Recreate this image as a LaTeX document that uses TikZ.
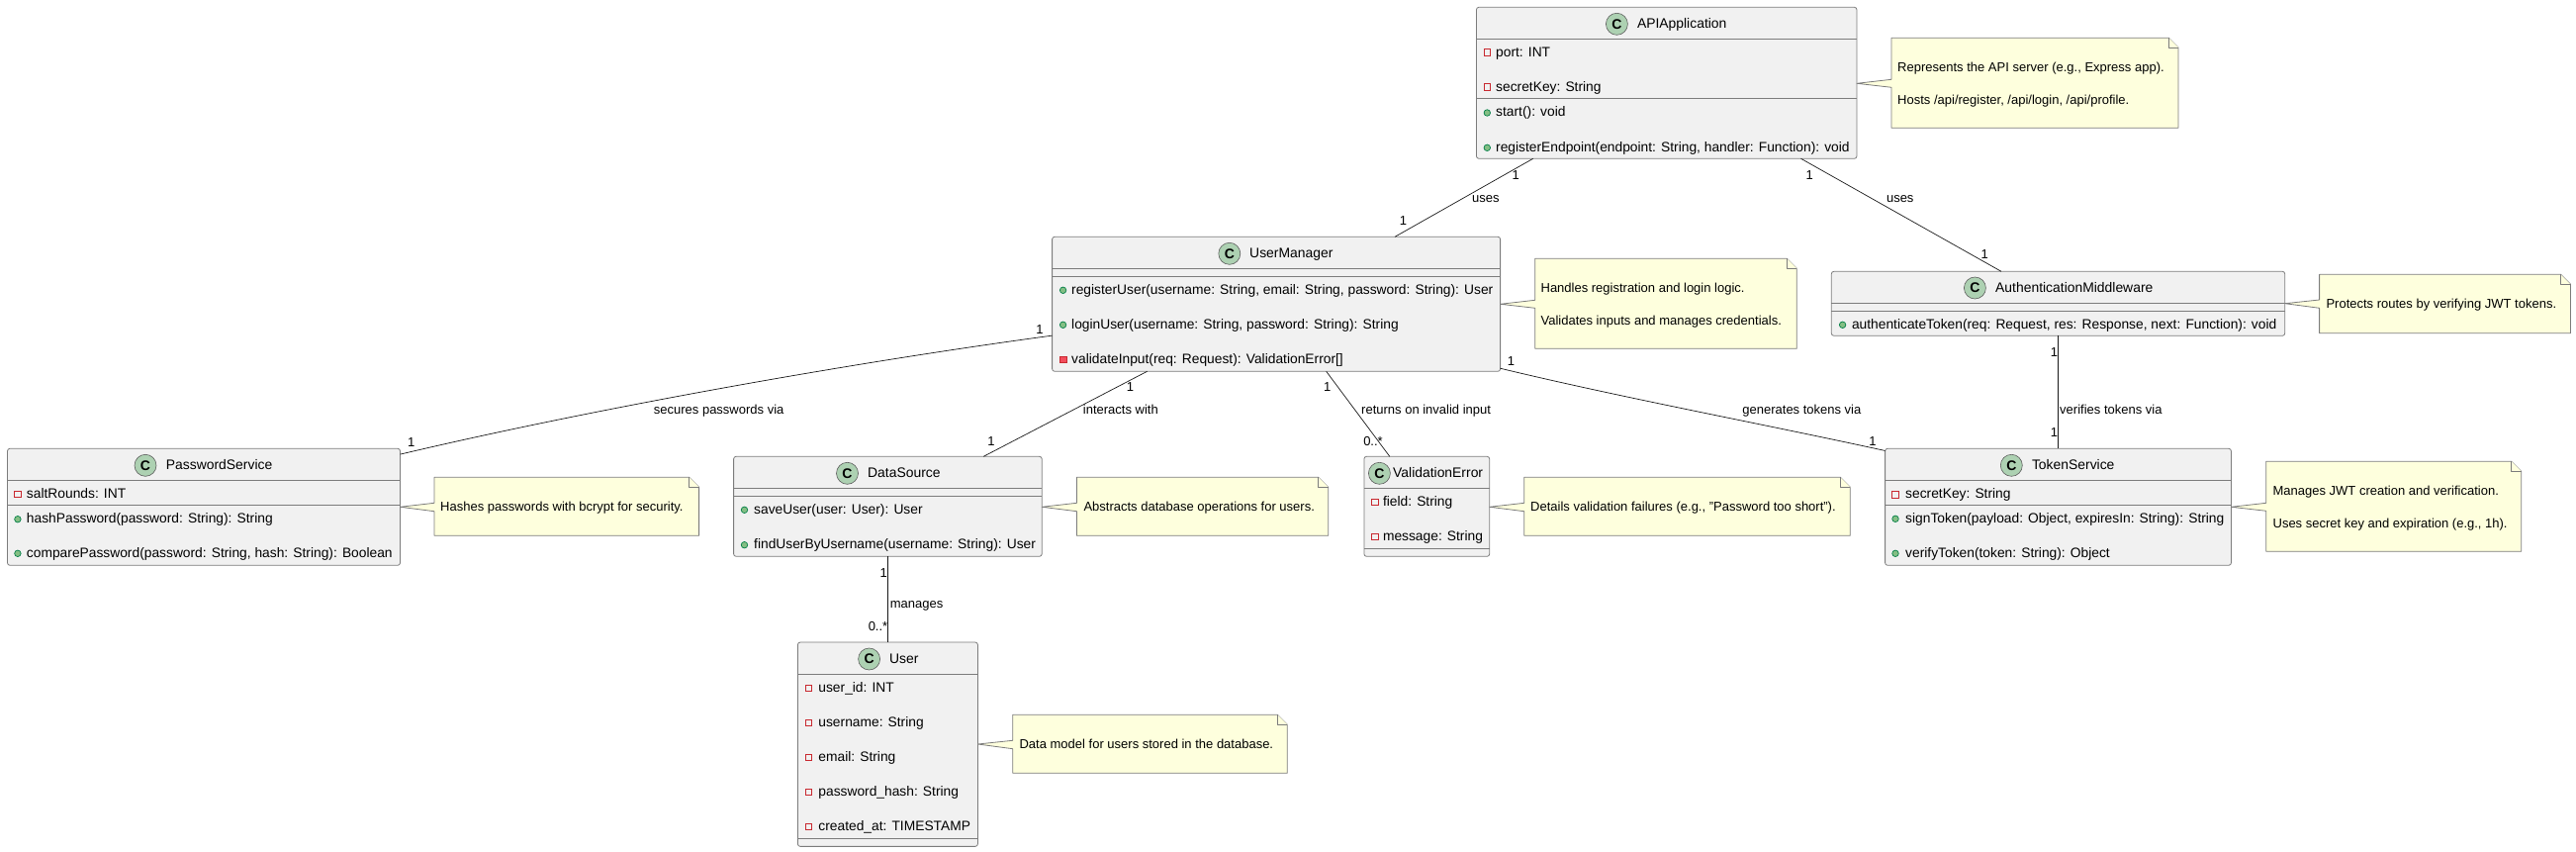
\documentclass[tikz,border=0pt]{standalone}
\usepackage{fontspec}
\setmainfont{Liberation Sans}
\definecolor{boxline}{HTML}{7C7C7C}
\definecolor{edgeline}{HTML}{181818}
\definecolor{boxfill}{HTML}{F1F1F1}
\definecolor{notefill}{HTML}{FEFFDD}
\definecolor{circlefill}{HTML}{ADD1B2}
\definecolor{privred}{HTML}{C82930}
\definecolor{privfill}{HTML}{F24D5C}
\definecolor{pubgreen}{HTML}{038048}
\definecolor{pubfill}{HTML}{84BE84}
\tikzset{
classbox/.style={draw=boxline,fill=boxfill,line width=0.8pt,rounded corners=2.5pt,outer sep=0pt,inner sep=0pt},
classicon/.style={circle,draw=edgeline!70,fill=circlefill,line width=0.6pt,minimum size=22pt,inner sep=0pt,font=\fontsize{14}{16}\selectfont\bfseries},
classname/.style={anchor=west,inner sep=0pt,text height=10pt,text depth=1.5pt,font=\fontsize{13.9}{16}\selectfont},
member/.style={anchor=west,inner sep=0pt,text height=10pt,text depth=1.5pt,font=\fontsize{13.8}{16}\selectfont},
notetext/.style={anchor=west,inner sep=0pt,text height=10pt,text depth=3pt,font=\fontsize{13}{15}\selectfont},
edgelabel/.style={anchor=west,inner sep=0pt,text height=10pt,text depth=3pt,font=\fontsize{13}{15}\selectfont},
multlabel/.style={inner sep=0pt,text height=10pt,text depth=3pt,font=\fontsize{13}{15}\selectfont},
privfield/.style={rectangle,draw=privred,line width=0.7pt,minimum size=6.5pt,inner sep=0pt},
privmethod/.style={rectangle,draw=privred,fill=privfill,line width=0.7pt,minimum size=6.5pt,inner sep=0pt},
pubmethod/.style={circle,draw=pubgreen,fill=pubfill,line width=0.7pt,minimum size=6.5pt,inner sep=0pt},
sepline/.style={draw=boxline,line width=0.8pt},
noteshape/.style={draw=boxline,fill=notefill,line width=0.8pt,line join=round},
assoc/.style={draw=edgeline,line width=0.7pt}
}
\begin{document}
\begin{tikzpicture}[x=1pt,y=-1pt]
\useasboundingbox (0,0) rectangle (2604,861);

\node[classbox,minimum width=384.5pt,minimum height=153pt] (apiapp) at (1684.7,83.8) {};
\node[classbox,minimum width=453pt,minimum height=136pt] (usermgr) at (1290.1,307.3) {};
\node[classbox,minimum width=458.4pt,minimum height=65pt] (authmw) at (2080.5,306.8) {};
\node[classbox,minimum width=397pt,minimum height=118pt] (pwdservice) at (206,512.3) {};
\node[classbox,minimum width=311.6pt,minimum height=101pt] (datasource) at (897.4,511.8) {};
\node[classbox,minimum width=126.8pt,minimum height=101pt] (valerror) at (1442.3,511.8) {};
\node[classbox,minimum width=349.8pt,minimum height=118pt] (tokenservice) at (2080.5,512.3) {};
\node[classbox,minimum width=182pt,minimum height=206.3pt] (usermodel) at (897.4,752.2) {};

\draw[sepline] (apiapp.west |- 0,39.3) -- (apiapp.east |- 0,39.3);
\draw[sepline] (apiapp.west |- 0,99.3) -- (apiapp.east |- 0,99.3);
\draw[sepline] (usermgr.west |- 0,271.3) -- (usermgr.east |- 0,271.3);
\draw[sepline] (usermgr.west |- 0,279.3) -- (usermgr.east |- 0,279.3);
\draw[sepline] (authmw.west |- 0,306.3) -- (authmw.east |- 0,306.3);
\draw[sepline] (authmw.west |- 0,314.3) -- (authmw.east |- 0,314.3);
\draw[sepline] (pwdservice.west |- 0,485.7) -- (pwdservice.east |- 0,485.7);
\draw[sepline] (pwdservice.west |- 0,510.3) -- (pwdservice.east |- 0,510.3);
\draw[sepline] (datasource.west |- 0,493.3) -- (datasource.east |- 0,493.3);
\draw[sepline] (datasource.west |- 0,501.3) -- (datasource.east |- 0,501.3);
\draw[sepline] (valerror.west |- 0,493.3) -- (valerror.east |- 0,493.3);
\draw[sepline] (valerror.west |- 0,554.3) -- (valerror.east |- 0,554.3);
\draw[sepline] (tokenservice.west |- 0,485.3) -- (tokenservice.east |- 0,485.3);
\draw[sepline] (tokenservice.west |- 0,510.3) -- (tokenservice.east |- 0,510.3);
\draw[sepline] (usermodel.west |- 0,681.3) -- (usermodel.east |- 0,681.3);
\draw[sepline] (usermodel.west |- 0,847) -- (usermodel.east |- 0,847);

\node[classicon] (apiappC) at (1634.4,24.3) {C};
\node[classname] (apiappname) at (1654.8,24.3) {APIApplication};
\node[privfield] (apii1) at (1503.3,53) {};
\node[member] (apim1) at (1512,53) {port: INT};
\node[privfield] (apii2) at (1503.3,88) {};
\node[member] (apim2) at (1512,88) {secretKey: String};
\node[pubmethod] (apii3) at (1503.3,114) {};
\node[member] (apim3) at (1512,113.7) {start(): void};
\node[pubmethod] (apii4) at (1503.3,149.3) {};
\node[member] (apim4) at (1512,149.3) {registerEndpoint(endpoint: String, handler: Function): void};

\node[classicon] (usermgrC) at (1242.8,256.3) {C};
\node[classname] (usermgrname) at (1263,256.3) {UserManager};
\node[pubmethod] (umi1) at (1074.6,293.3) {};
\node[member] (umm1) at (1083,293.3) {registerUser(username: String, email: String, password: String): User};
\node[pubmethod] (umi2) at (1074.6,328.3) {};
\node[member] (umm2) at (1083,328.3) {loginUser(username: String, password: String): String};
\node[privmethod] (umi3) at (1074.6,363.3) {};
\node[member] (umm3) at (1083,363.3) {validateInput(req: Request): ValidationError[]};

\node[classicon] (authmwC) at (1996.4,291) {C};
\node[classname] (authmwname) at (2017,291) {AuthenticationMiddleware};
\node[pubmethod] (ami1) at (1862.6,328.3) {};
\node[member] (amm1) at (1871.8,328.3) {authenticateToken(req: Request, res: Response, next: Function): void};

\node[classicon] (pwdserviceC) at (147,470.3) {C};
\node[classname] (pwdservicename) at (167.7,470.3) {PasswordService};
\node[privfield] (psi1) at (17.9,499.3) {};
\node[member] (psm1) at (26.8,499.3) {saltRounds: INT};
\node[pubmethod] (psi2) at (17.9,524.7) {};
\node[member] (psm2) at (26.8,524.7) {hashPassword(password: String): String};
\node[pubmethod] (psi3) at (17.9,559.3) {};
\node[member] (psm3) at (26.8,559.3) {comparePassword(password: String, hash: String): Boolean};

\node[classicon] (datasourceC) at (856.5,478.3) {C};
\node[classname] (datasourcename) at (877,478.3) {DataSource};
\node[pubmethod] (dsi1) at (752.5,515.3) {};
\node[member] (dsm1) at (762,515.3) {saveUser(user: User): User};
\node[pubmethod] (dsi2) at (752.5,550.7) {};
\node[member] (dsm2) at (762,550.7) {findUserByUsername(username: String): User};

\node[classicon] (valerrorC) at (1394.4,478.3) {C};
\node[classname] (valerrorname) at (1408,478.3) {ValidationError};
\node[privfield] (vei1) at (1389.8,507.3) {};
\node[member] (vem1) at (1397.8,507.3) {field: String};
\node[privfield] (vei2) at (1389.8,542.3) {};
\node[member] (vem2) at (1397.8,542.3) {message: String};

\node[classicon] (tokenserviceC) at (2033.3,470.3) {C};
\node[classname] (tokenservicename) at (2053.8,470.3) {TokenService};
\node[privfield] (tsi1) at (1916,499.7) {};
\node[member] (tsm1) at (1926,499.7) {secretKey: String};
\node[pubmethod] (tsi2) at (1916,524.3) {};
\node[member] (tsm2) at (1926,524.3) {signToken(payload: Object, expiresIn: String): String};
\node[pubmethod] (tsi3) at (1916,559.3) {};
\node[member] (tsm3) at (1926,559.3) {verifyToken(token: String): Object};

\node[classicon] (usermodelC) at (878.6,666) {C};
\node[classname] (usermodelname) at (899,666) {User};
\node[privfield] (mdi1) at (817.4,695.3) {};
\node[member] (mdm1) at (827.2,695.3) {user\_id: INT};
\node[privfield] (mdi2) at (817.4,730.3) {};
\node[member] (mdm2) at (827.2,730.3) {username: String};
\node[privfield] (mdi3) at (817.4,765.3) {};
\node[member] (mdm3) at (827.2,765.3) {email: String};
\node[privfield] (mdi4) at (817.4,800.3) {};
\node[member] (mdm4) at (827.2,800.3) {password\_hash: String};
\node[privfield] (mdi5) at (817.4,835.3) {};
\node[member] (mdm5) at (827.2,835.3) {created\_at: TIMESTAMP};

\draw[noteshape] (1912,38.3) -- (2192.3,38.3) -- (2202,48) -- (2202,129.3) -- (1912,129.3) -- (1912,88.3) -- (apiapp.east |- 0,84.3) -- (1912,80.3) -- cycle;
\draw[noteshape] (2192.3,38.3) -- (2192.3,48) -- (2202,48);
\node[notetext] (apinote1) at (1918,68.7) {Represents the API server (e.g., Express app).};
\node[notetext] (apinote2) at (1918,101.7) {Hosts /api/register, /api/login, /api/profile.};

\draw[noteshape] (1551.7,261.3) -- (1806.3,261.3) -- (1816.3,271.3) -- (1816.3,352.3) -- (1551.7,352.3) -- (1551.7,311.3) -- (usermgr.east |- 0,307.3) -- (1551.7,303.3) -- cycle;
\draw[noteshape] (1806.3,261.3) -- (1806.3,271.3) -- (1816.3,271.3);
\node[notetext] (umnote1) at (1557.4,291.7) {Handles registration and login logic.};
\node[notetext] (umnote2) at (1557.4,325) {Validates inputs and manages credentials.};

\draw[noteshape] (2344.6,277.3) -- (2588.5,277.3) -- (2598.5,287.3) -- (2598.5,336.7) -- (2344.6,336.7) -- (2344.6,311.3) -- (authmw.east |- 0,306.7) -- (2344.6,303) -- cycle;
\draw[noteshape] (2588.5,277.3) -- (2588.5,287.3) -- (2598.5,287.3);
\node[notetext] (amnote1) at (2351.3,307.7) {Protects routes by verifying JWT tokens.};

\draw[noteshape] (439,482.3) -- (696.6,482.3) -- (706.6,492.3) -- (706.6,541.3) -- (439,541.3) -- (439,516.7) -- (pwdservice.east |- 0,512.3) -- (439,508.3) -- cycle;
\draw[noteshape] (696.6,482.3) -- (696.6,492.3) -- (706.6,492.3);
\node[notetext] (psnote1) at (445,512.7) {Hashes passwords with bcrypt for security.};

\draw[noteshape] (1088.4,482.3) -- (1332.7,482.3) -- (1342.7,492.3) -- (1342.7,541.3) -- (1088.4,541.3) -- (1088.4,516.7) -- (datasource.east |- 0,512.3) -- (1088.4,508.3) -- cycle;
\draw[noteshape] (1332.7,482.3) -- (1332.7,492.3) -- (1342.7,492.3);
\node[notetext] (dsnote1) at (1095.3,512.7) {Abstracts database operations for users.};

\draw[noteshape] (1540.8,482.3) -- (1860.3,482.3) -- (1870.3,492.3) -- (1870.3,541.3) -- (1540.8,541.3) -- (1540.8,516.7) -- (valerror.east |- 0,512.3) -- (1540.8,508.3) -- cycle;
\draw[noteshape] (1860.3,482.3) -- (1860.3,492.3) -- (1870.3,492.3);
\node[notetext] (venote1) at (1547,512.7) {Details validation failures (e.g., "Password too short").};

\draw[noteshape] (2290.8,466.3) -- (2538.7,466.3) -- (2548.7,476.3) -- (2548.7,557.3) -- (2290.8,557.3) -- (2290.8,516.3) -- (tokenservice.east |- 0,512.3) -- (2290.8,508.3) -- cycle;
\draw[noteshape] (2538.7,466.3) -- (2538.7,476.3) -- (2548.7,476.3);
\node[notetext] (tsnote1) at (2297.4,496.7) {Manages JWT creation and verification.};
\node[notetext] (tsnote2) at (2297.4,529.7) {Uses secret key and expiration (e.g., 1h).};

\draw[noteshape] (1023.7,722.3) -- (1291.3,722.3) -- (1301.3,732.3) -- (1301.3,781.3) -- (1023.7,781.3) -- (1023.7,756.7) -- (usermodel.east |- 0,752) -- (1023.7,748.3) -- cycle;
\draw[noteshape] (1291.3,722.3) -- (1291.3,732.3) -- (1301.3,732.3);
\node[notetext] (mdnote1) at (1030.4,752.7) {Data model for users stored in the database.};

\draw[assoc] (apiapp) -- (usermgr);
\draw[assoc] (apiapp) -- (authmw);
\draw[assoc] (authmw) -- (tokenservice);
\draw[assoc] (usermgr) -- (datasource);
\draw[assoc] (usermgr) -- (valerror);
\draw[assoc] (datasource) -- (usermodel);
\draw[assoc] (usermgr.188) .. controls (864,366) and (604,412) .. (pwdservice.15.8);
\draw[assoc] (usermgr.344.4) .. controls (1640,402) and (1780,428) .. (tokenservice.162.4);

\node[edgelabel] (lbluses1) at (1488,201) {uses};
\node[edgelabel] (lbluses2) at (1906.8,201) {uses};
\node[edgelabel] (lblverifies) at (2082,415) {verifies tokens via};
\node[edgelabel] (lblsecures) at (660.7,415) {secures passwords via};
\node[edgelabel] (lblinteracts) at (1094.7,415) {interacts with};
\node[edgelabel] (lblreturns) at (1376,415) {returns on invalid input};
\node[edgelabel] (lblgenerates) at (1761.2,415) {generates tokens via};
\node[edgelabel] (lblmanages) at (899.6,611) {manages};

\node[multlabel] (m1) at (1532.3,177.7) {1};
\node[multlabel] (m2) at (1418.5,224) {1};
\node[multlabel] (m3) at (1829.3,177.7) {1};
\node[multlabel] (m4) at (2006.3,258.3) {1};
\node[multlabel] (m5) at (2076.4,356.7) {1};
\node[multlabel] (m6) at (2076.4,437.7) {1};
\node[multlabel] (m7) at (1051,333.7) {1};
\node[multlabel] (m8) at (415.8,447.7) {1};
\node[multlabel] (m9) at (1142.4,391.7) {1};
\node[multlabel] (m10) at (1002,446.7) {1};
\node[multlabel] (m11) at (1341.6,391.7) {1};
\node[multlabel] (m12) at (1388,446.7) {0..*};
\node[multlabel] (m13) at (1527.5,365.7) {1};
\node[multlabel] (m14) at (1893,447) {1};
\node[multlabel] (m15) at (893.3,580) {1};
\node[multlabel] (m16) at (887.5,633.7) {0..*};
\end{tikzpicture}
\end{document}
